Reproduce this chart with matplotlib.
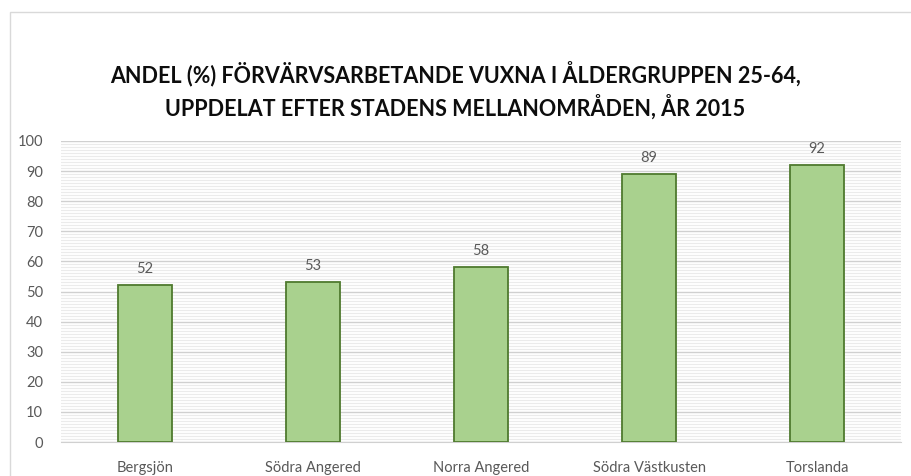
import matplotlib.pyplot as plt
from matplotlib.patches import Rectangle
from matplotlib.ticker import MultipleLocator

# data
areas = ['Bergsjön', 'Södra Angered', 'Norra Angered', 'Södra Västkusten', 'Torslanda']
shares = [52, 53, 58, 89, 92]
title = ('ANDEL (%) FÖRVÄRVSARBETANDE VUXNA I ÅLDERGRUPPEN 25-64,\n'
         'UPPDELAT EFTER STADENS MELLANOMRÅDEN, ÅR 2015')

plt.rcParams['font.family'] = ['Lato', 'DejaVu Sans']

fig = plt.figure(figsize=(9.11, 4.76), dpi=100)
ax = fig.add_axes([61 / 911, 34 / 476, 840 / 911, 301 / 476])

# chart border
fig.patches.append(Rectangle((10 / 911, -0.01), 1.0, 0.985, transform=fig.transFigure,
                             fill=False, edgecolor='#d9d9d9', linewidth=1.0))

x = range(len(areas))
bars = ax.bar(x, shares, width=0.32, color='#a9d18e', edgecolor='#4f7a2e', linewidth=1.3, zorder=3)
for b, v in zip(bars, shares):
    ax.text(b.get_x() + b.get_width() / 2, v + 3, str(v), ha='center', va='bottom',
            fontsize=10.5, color='#595959')

ax.set_xlim(-0.5, len(areas) - 0.5)
ax.set_ylim(0, 100)
ax.yaxis.set_major_locator(MultipleLocator(10))
ax.yaxis.set_minor_locator(MultipleLocator(1))
ax.grid(axis='y', which='major', color='#d0d0d0', linewidth=1.0, zorder=0)
ax.grid(axis='y', which='minor', color='#ebebeb', linewidth=0.8, zorder=0)
ax.set_xticks(list(x))
ax.set_xticklabels(areas)
ax.tick_params(axis='both', which='both', length=0, colors='#595959', labelsize=10.5)
ax.tick_params(axis='x', pad=14)
ax.tick_params(axis='y', pad=13)
for s in ['top', 'right', 'left']:
    ax.spines[s].set_visible(False)
ax.spines['bottom'].set_color('#d0d0d0')

fig.text(0.5, 1 - 90 / 476, title, ha='center', va='center', fontsize=15.5,
         fontweight='bold', color='#0d0d0d', linespacing=1.4)

fig.savefig('out.png', dpi=100)
